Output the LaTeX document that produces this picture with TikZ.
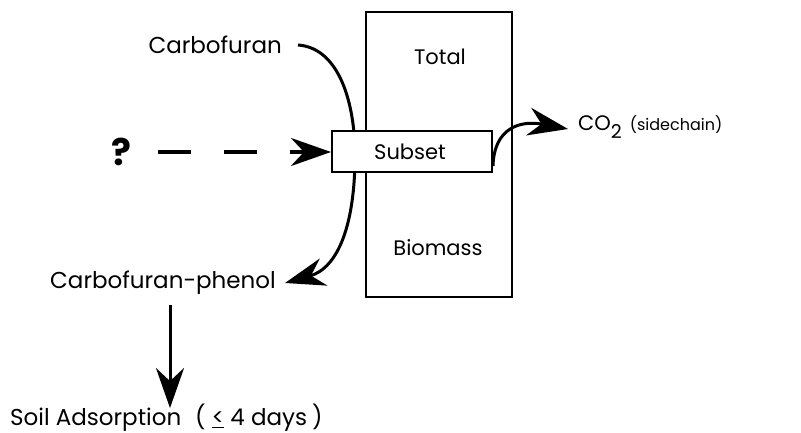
\documentclass[tikz,border=0pt]{standalone}
\usepackage{fontspec}
\setmainfont{Poppins}
\usetikzlibrary{arrows.meta}
\begin{document}
\begin{tikzpicture}[x=1pt,y=-1pt,
  lbl/.style={inner sep=0pt, font=\fontsize{21}{23}\selectfont},
  biglbl/.style={inner sep=0pt, font=\fontsize{23}{25}\selectfont},
  flow/.style={line width=3pt, -{Stealth[length=40pt,width=28pt,inset=13pt]}},
  boxline/.style={line width=1.6pt}]
\useasboundingbox (0,0) rectangle (801,433);

% total biomass column
\node[boxline, draw, minimum width=146pt, minimum height=285pt, inner sep=0pt] (total) at (439,154.5) {};
\node[lbl] (ttotal) at (440,57) {Total};
\node[lbl] (tbio) at (438,248) {Biomass};

% labels
\node[biglbl, anchor=east] (cf) at (282,45) {Carbofuran};
\node[biglbl, anchor=east] (phenol) at (276,283) {Carbofuran-phenol};
\node[biglbl, anchor=west] (soil) at (10,418) {Soil Adsorption\hspace{14pt}(\hspace{6pt}\underline{<}\hspace{6pt}4 days\hspace{5pt})};
\node[lbl, anchor=west] (co2) at (578,127) {CO\raisebox{-8pt}{\fontsize{19}{21}\selectfont 2}\hspace{8pt}{\fontsize{16}{18}\selectfont(sidechain)}};
\node[inner sep=0pt, font=\fontsize{37}{39}\selectfont\bfseries] (q) at (121,152) {?};

% flows through the subset
\draw[flow] (cf.east) ++(16,0) coordinate (cfs)
  .. controls (340,48) and (355,105) .. (355,155)
  .. controls (355,225) and (338,268) .. ([xshift=9pt]phenol.east);
\coordinate (co2s) at (493,166);
\draw[flow] (co2s) .. controls (494,128) and (520,120) .. ([xshift=-10pt,yshift=-2pt]co2.west);
\draw[flow, line width=4pt, dash pattern=on 33pt off 33pt] (q.east) ++(27,0) -- (331,152);

% subset box drawn over the column and the curves
\node[boxline, draw, fill=white, minimum width=160pt, minimum height=41pt, inner sep=0pt] (subset) at (412,151.5) {};
\node[lbl] (tsub) at (410,152) {Subset};

\draw[flow] (phenol.south -| 170,0) ++(0,10) -- ([yshift=-4pt]soil.north -| 170,0);
\end{tikzpicture}
\end{document}
